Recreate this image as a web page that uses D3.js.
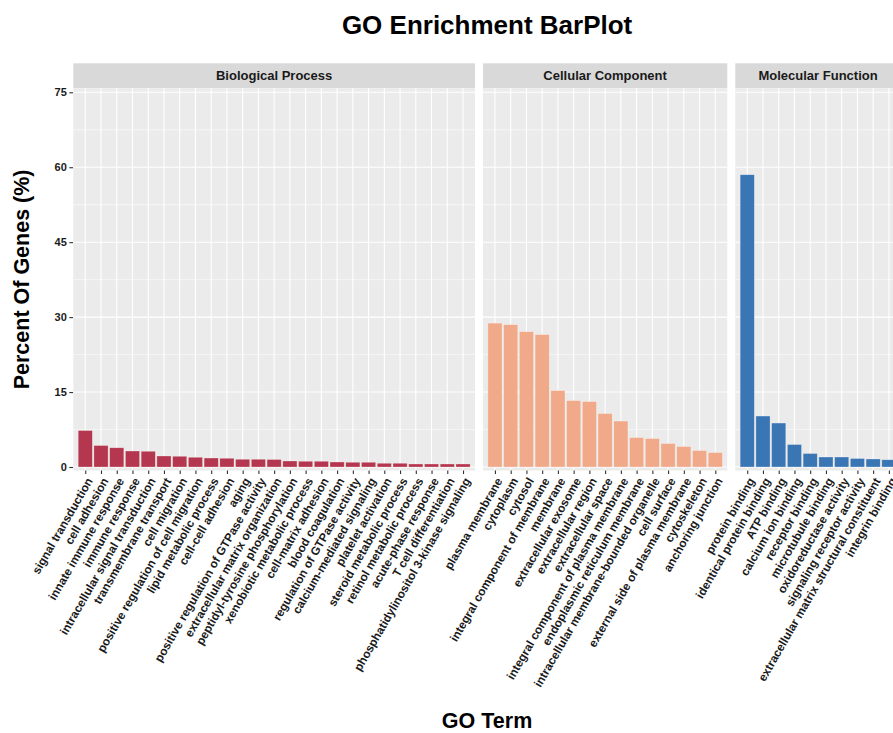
<!DOCTYPE html>
<html>
<head>
<meta charset="utf-8">
<script src="https://cdn.jsdelivr.net/npm/d3@7"></script>
<style>
  html, body { margin: 0; padding: 0; background: #ffffff; }
  svg { display: block; font-family: "Liberation Sans", Arial, Helvetica, sans-serif; }
</style>
</head>
<body>
<svg id="chart" width="893" height="733"></svg>
<script>
// GO terms and percent of genes, one pair of arrays per ontology
const bpTerms = [
  "signal transduction", "cell adhesion", "innate immune response", "immune response",
  "intracellular signal transduction", "transmembrane transport", "cell migration",
  "positive regulation of cell migration", "lipid metabolic process", "cell-cell adhesion",
  "aging", "positive regulation of GTPase activity", "extracellular matrix organization",
  "peptidyl-tyrosine phosphorylation", "xenobiotic metabolic process", "cell-matrix adhesion",
  "blood coagulation", "regulation of GTPase activity", "calcium-mediated signaling",
  "platelet activation", "steroid metabolic process", "retinol metabolic process",
  "acute-phase response", "T cell differentiation", "phosphatidylinositol 3-kinase signaling"
];
const bpValues = [7.3, 4.3, 3.85, 3.2, 3.15, 2.2, 2.15, 1.95, 1.8, 1.75, 1.55, 1.55, 1.5,
  1.2, 1.15, 1.15, 1.0, 0.95, 0.95, 0.75, 0.75, 0.6, 0.6, 0.6, 0.6];

const ccTerms = [
  "plasma membrane", "cytoplasm", "cytosol", "integral component of membrane", "membrane",
  "extracellular exosome", "extracellular region", "extracellular space",
  "integral component of plasma membrane", "endoplasmic reticulum membrane",
  "intracellular membrane-bounded organelle", "cell surface",
  "external side of plasma membrane", "cytoskeleton", "anchoring junction"
];
const ccValues = [28.8, 28.5, 27.1, 26.5, 15.3, 13.3, 13.1, 10.7, 9.2, 5.9, 5.7, 4.7, 4.1, 3.3, 2.9];

const mfTerms = [
  "protein binding", "identical protein binding", "ATP binding", "calcium ion binding",
  "receptor binding", "microtubule binding", "oxidoreductase activity",
  "signaling receptor activity", "extracellular matrix structural constituent", "integrin binding"
];
const mfValues = [58.5, 10.2, 8.8, 4.5, 2.7, 2.0, 2.0, 1.7, 1.6, 1.45];

const facetNames = ["Biological Process", "Cellular Component", "Molecular Function"];
const facetColors = ["#b5374f", "#f0aa8a", "#3b76b4"];
const yTicks = [0, 15, 30, 45, 60, 75];
const yMinorTicks = [7.5, 22.5, 37.5, 52.5, 67.5];

const facets = [
  { name: facetNames[0], terms: bpTerms, values: bpValues, color: facetColors[0] },
  { name: facetNames[1], terms: ccTerms, values: ccValues, color: facetColors[1] },
  { name: facetNames[2], terms: mfTerms, values: mfValues, color: facetColors[2] }
];

const svg = d3.select("#chart");
const W = 893, H = 733;

// Layout
const panelLeft = 73.3;
const panelTop = 88.3;
const panelBottom = 470.5;
const stripTop = 63.3;
const panelGap = 8;
const step = 15.74;          // width of one category slot, shared by all panels
const outerPad = 0.76;       // slots of padding at each panel edge

const y = d3.scaleLinear().domain([-0.7, 75.8]).range([panelBottom, panelTop]);

// Panel extents (free x spacing, same slot width)
let cursor = panelLeft;
facets.forEach(f => {
  const width = step * (f.terms.length - 1 + 2 * outerPad);
  f.x0 = cursor;
  f.x1 = cursor + width;
  f.x = d3.scalePoint().domain(f.terms).range([f.x0, f.x1]).padding(outerPad);
  cursor = f.x1 + panelGap;
});

const plotCenter = (panelLeft + facets[2].x1) / 2;

// Title
svg.append("text")
  .attr("x", plotCenter).attr("y", 34)
  .attr("text-anchor", "middle")
  .attr("font-size", 26).attr("font-weight", "bold").attr("fill", "#000")
  .text("GO Enrichment BarPlot");

// Y axis title
svg.append("text")
  .attr("transform", `translate(29, ${(panelTop + panelBottom) / 2}) rotate(-90)`)
  .attr("text-anchor", "middle")
  .attr("font-size", 21.5).attr("font-weight", "bold").attr("fill", "#000")
  .text("Percent Of Genes (%)");

// X axis title
svg.append("text")
  .attr("x", plotCenter).attr("y", 728)
  .attr("text-anchor", "middle")
  .attr("font-size", 21.5).attr("font-weight", "bold").attr("fill", "#000")
  .text("GO Term");

// Y axis (left of the first panel)
const yAxis = d3.axisLeft(y).tickValues(yTicks).tickSize(4).tickPadding(2.5);
const yg = svg.append("g").attr("transform", `translate(${panelLeft},0)`).call(yAxis);
yg.select(".domain").remove();
yg.selectAll(".tick line").attr("stroke", "#333").attr("stroke-width", 1.1);
yg.selectAll(".tick text").attr("font-size", 11).attr("font-weight", "bold")
  .attr("fill", "#1a1a1a").attr("font-family", "Liberation Sans, Arial, sans-serif");

facets.forEach(f => {
  const g = svg.append("g");

  // Strip
  g.append("rect")
    .attr("x", f.x0).attr("y", stripTop)
    .attr("width", f.x1 - f.x0).attr("height", panelTop - stripTop)
    .attr("fill", "#d9d9d9");
  g.append("text")
    .attr("x", (f.x0 + f.x1) / 2).attr("y", (stripTop + panelTop) / 2)
    .attr("dy", "0.35em")
    .attr("text-anchor", "middle")
    .attr("font-size", 13).attr("font-weight", "bold").attr("fill", "#1a1a1a")
    .text(f.name);

  // Panel background
  g.append("rect")
    .attr("x", f.x0).attr("y", panelTop)
    .attr("width", f.x1 - f.x0).attr("height", panelBottom - panelTop)
    .attr("fill", "#ebebeb");

  // Grid
  g.selectAll("line.yminor").data(yMinorTicks).join("line")
    .attr("x1", f.x0).attr("x2", f.x1)
    .attr("y1", d => y(d)).attr("y2", d => y(d))
    .attr("stroke", "#fff").attr("stroke-width", 0.55);
  g.selectAll("line.ymajor").data(yTicks).join("line")
    .attr("x1", f.x0).attr("x2", f.x1)
    .attr("y1", d => y(d)).attr("y2", d => y(d))
    .attr("stroke", "#fff").attr("stroke-width", 1.1);
  g.selectAll("line.xmajor").data(f.terms).join("line")
    .attr("x1", d => f.x(d)).attr("x2", d => f.x(d))
    .attr("y1", panelTop).attr("y2", panelBottom)
    .attr("stroke", "#fff").attr("stroke-width", 1.1);

  // Bars
  const bw = step * 0.9;
  g.selectAll("rect.bar").data(f.terms.map((t, i) => ({ term: t, value: f.values[i] })))
    .join("rect")
    .attr("class", "bar")
    .attr("x", d => f.x(d.term) - bw / 2)
    .attr("width", bw)
    .attr("y", d => y(d.value))
    .attr("height", d => y(0) - y(d.value))
    .attr("fill", f.color)
    .attr("stroke", "rgba(255,255,255,0.45)")
    .attr("stroke-width", 0.6);

  // X axis with rotated term labels
  const xAxis = d3.axisBottom(f.x).tickSize(3.5).tickPadding(0);
  const xg = g.append("g").attr("transform", `translate(0,${panelBottom})`).call(xAxis);
  xg.select(".domain").remove();
  xg.selectAll(".tick line").attr("stroke", "#333").attr("stroke-width", 1.1);
  xg.selectAll(".tick text")
    .attr("font-size", 11.8).attr("font-weight", "bold").attr("fill", "#1a1a1a")
    .attr("font-family", "Liberation Sans, Arial, sans-serif")
    .attr("text-anchor", "end")
    .attr("y", 0).attr("dy", "0.72em")
    .attr("transform", "translate(0,6) rotate(-60)");
});
</script>
</body>
</html>
